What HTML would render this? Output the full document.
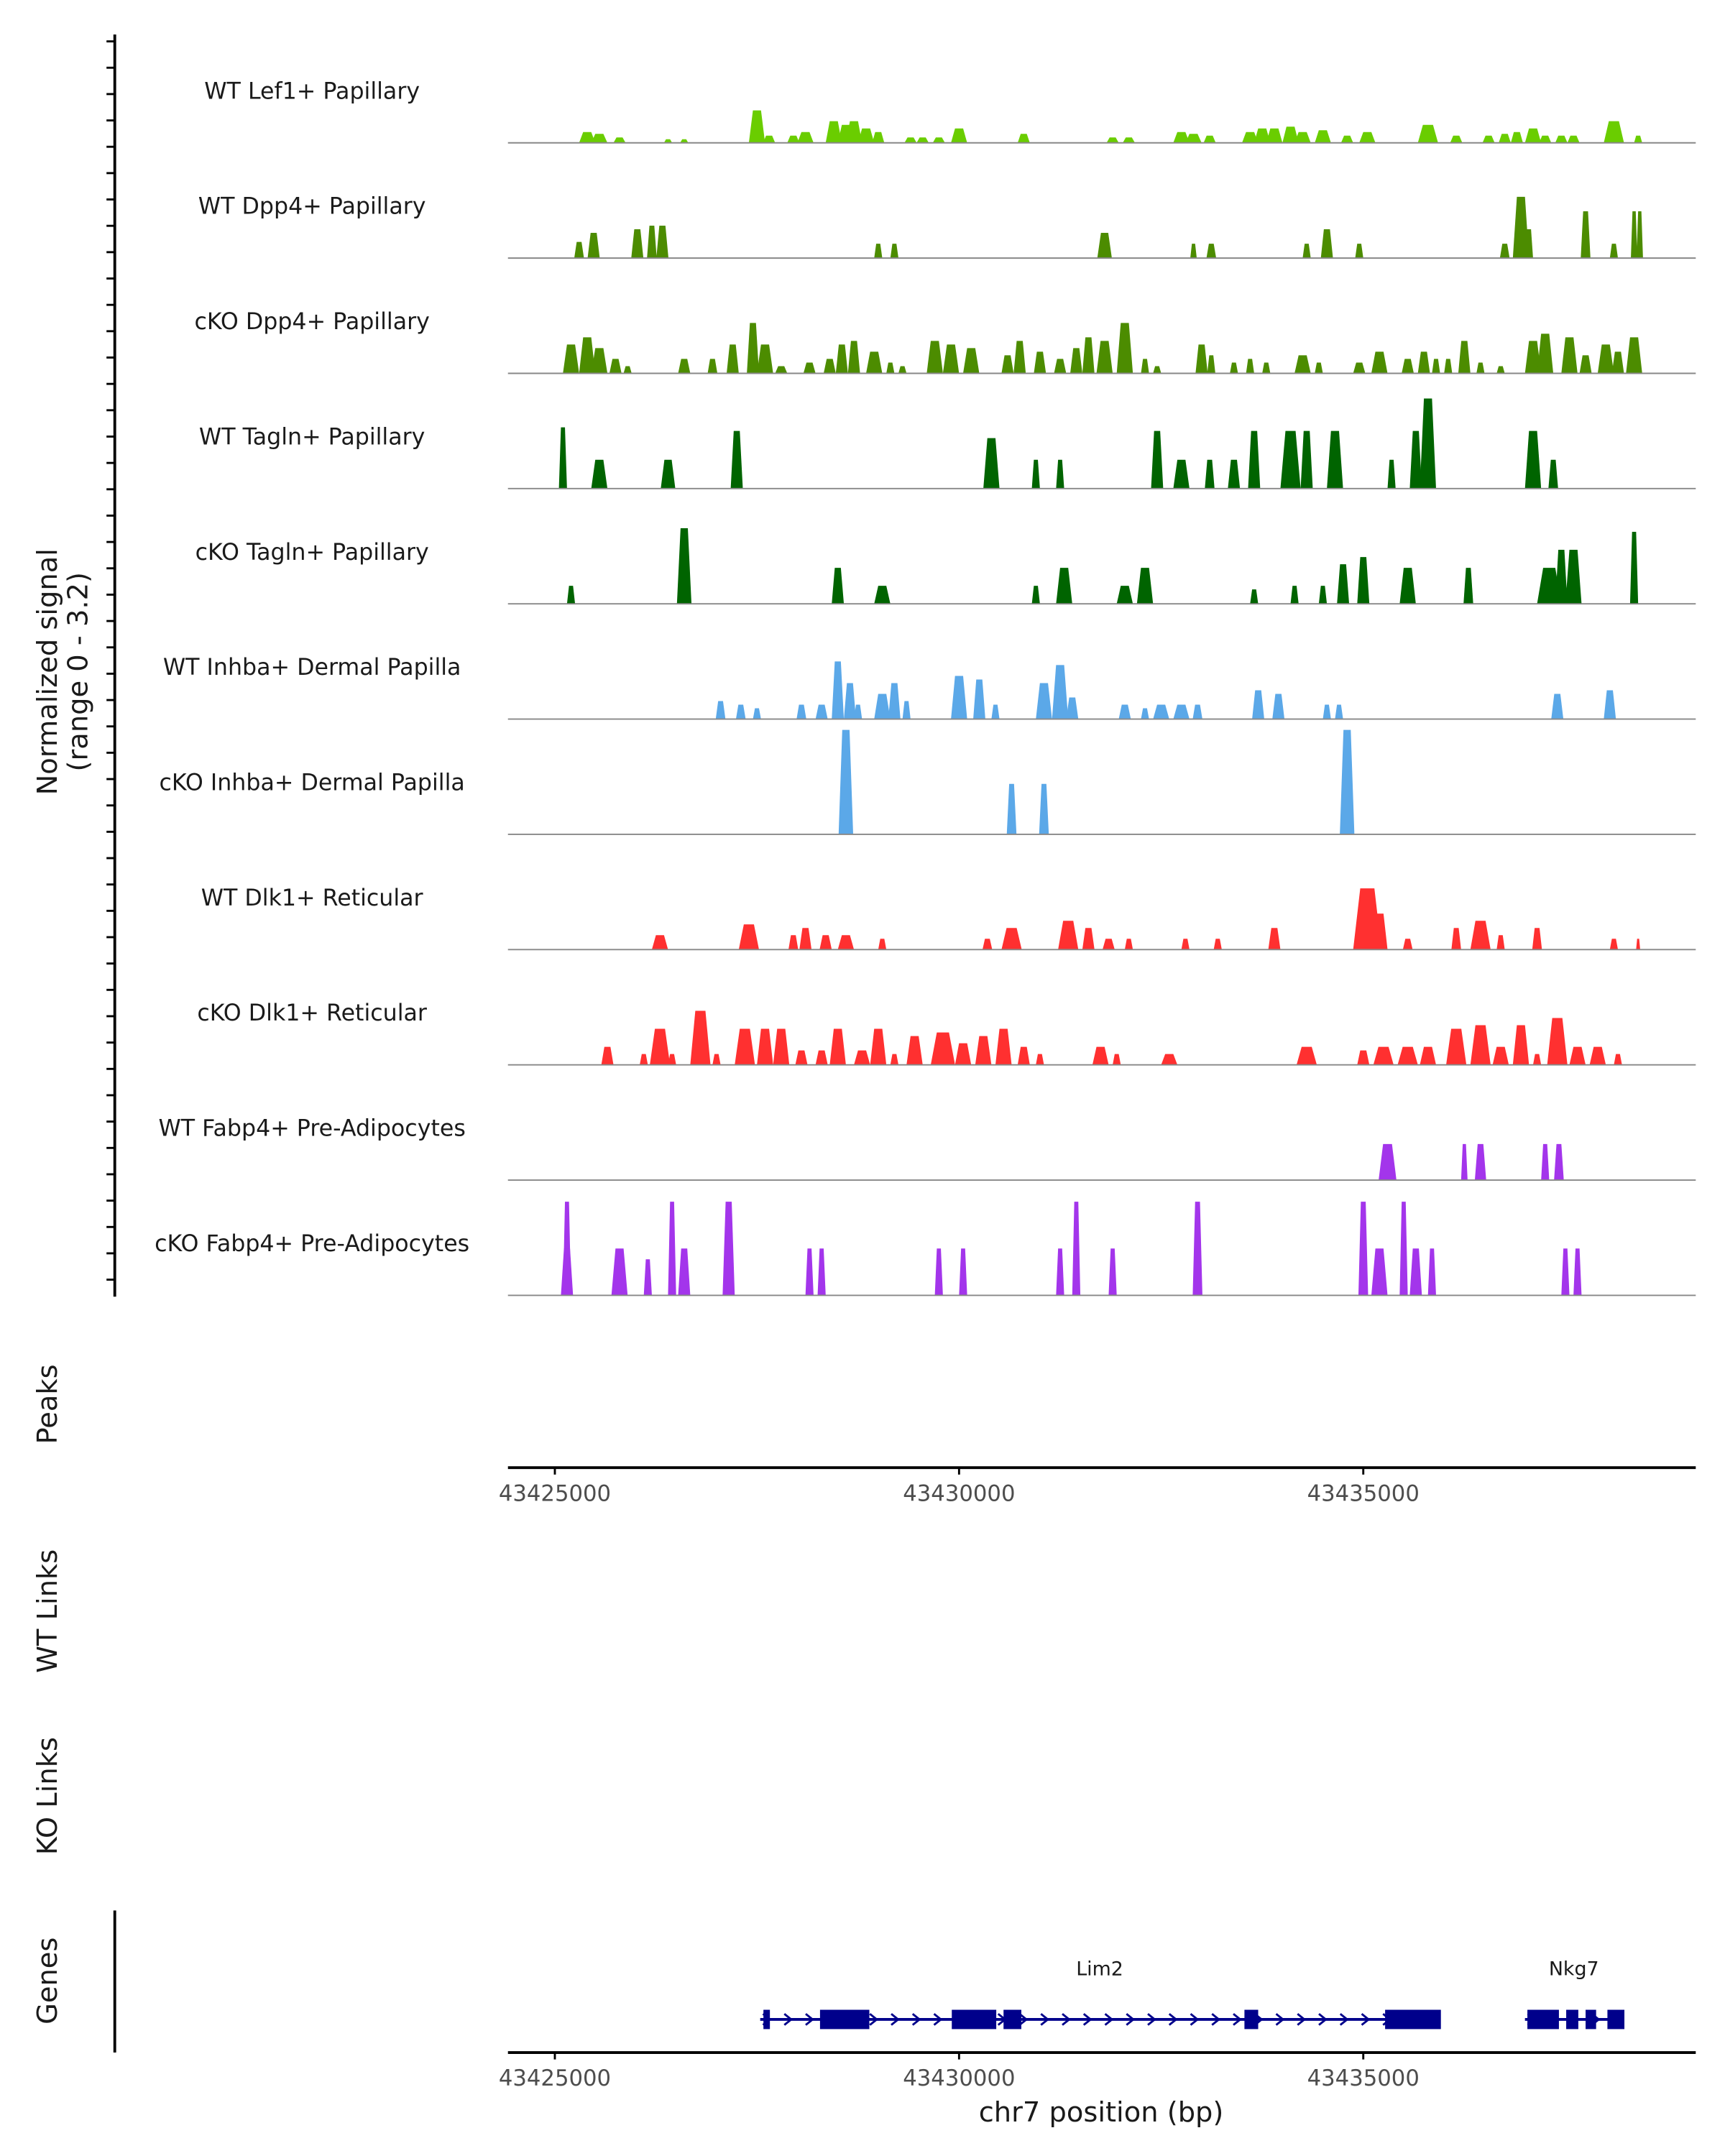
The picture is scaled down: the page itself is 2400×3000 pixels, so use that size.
<!DOCTYPE html>
<html><head><meta charset="utf-8">
<style>
html,body{margin:0;padding:0;background:#fff;}
svg{display:block;font-family:"DejaVu Sans","Liberation Sans",sans-serif;}
</style></head>
<body>
<svg id="chart" width="2400" height="3000" viewBox="0 0 1250 1563" xmlns="http://www.w3.org/2000/svg">
<rect x="0" y="0" width="1250" height="1563" fill="#fff"/>
<g id="static">
<text transform="translate(41,487) rotate(-90)" text-anchor="middle" font-size="20" fill="#1a1a1a">Normalized signal</text>
<text transform="translate(63,487) rotate(-90)" text-anchor="middle" font-size="20" fill="#1a1a1a">(range 0 - 3.2)</text>
<text transform="translate(41,1018) rotate(-90)" text-anchor="middle" font-size="20" fill="#1a1a1a">Peaks</text>
<text transform="translate(41,1168) rotate(-90)" text-anchor="middle" font-size="20" fill="#1a1a1a">WT Links</text>
<text transform="translate(41,1302) rotate(-90)" text-anchor="middle" font-size="20" fill="#1a1a1a">KO Links</text>
<text transform="translate(41,1436) rotate(-90)" text-anchor="middle" font-size="20" fill="#1a1a1a">Genes</text>
<line x1="83" y1="25" x2="83" y2="940" stroke="#000" stroke-width="2"/>
<line x1="83" y1="1385" x2="83" y2="1488" stroke="#000" stroke-width="2"/>
<text x="798" y="1538" text-anchor="middle" font-size="20" fill="#1a1a1a">chr7 position (bp)</text>
</g>
<g id="dyn"></g>
</svg>
<script>
const OFFSET_KB = 43400;
const trackNames = ["WT Lef1+ Papillary","WT Dpp4+ Papillary","cKO Dpp4+ Papillary","WT Tagln+ Papillary","cKO Tagln+ Papillary","WT Inhba+ Dermal Papilla","cKO Inhba+ Dermal Papilla","WT Dlk1+ Reticular","cKO Dlk1+ Reticular","WT Fabp4+ Pre-Adipocytes","cKO Fabp4+ Pre-Adipocytes"];
const trackColors = ["#6acd00","#4c8c00","#4c8c00","#006400","#006400","#5ba8e8","#5ba8e8","#ff3030","#ff3030","#a335eb","#a335eb"];
const xTicks = [43425000,43430000,43435000];
// peaks: [position kb (offset 43400), signal height, width kb]
const lef1WT = [[25.4,.3,.2],[25.55,.25,.2],[25.8,.15,.15],[26.4,.1,.1],[26.6,.1,.1],[27.5,.9,.2],[27.65,.2,.15],[27.95,.2,.15],[28.1,.3,.2],[28.45,.6,.2],[28.6,.5,.2],[28.7,.6,.2],[28.85,.4,.2],[29.0,.3,.15],[29.4,.15,.15],[29.55,.15,.15],[29.75,.15,.15],[30.0,.4,.2],[30.8,.25,.15],[31.9,.15,.15],[32.1,.15,.15],[32.75,.3,.2],[32.9,.25,.2],[33.1,.2,.15],[33.6,.3,.2],[33.75,.4,.2],[33.9,.4,.2],[34.1,.45,.2],[34.25,.3,.2],[34.5,.35,.2],[34.8,.2,.15],[35.05,.3,.2],[35.8,.5,.25],[36.15,.2,.15],[36.55,.2,.15],[36.75,.25,.15],[36.9,.3,.15],[37.1,.4,.2],[37.25,.2,.15],[37.45,.2,.15],[37.6,.2,.15],[38.1,.6,.25],[38.4,.2,.1]];
const dpp4WT = [[25.3,.45,.12],[25.48,.7,.15],[26.02,.8,.15],[26.2,.9,.12],[26.33,.9,.15],[29.0,.4,.1],[29.2,.4,.1],[31.8,.7,.18],[32.9,.4,.08],[33.12,.4,.12],[34.3,.4,.1],[34.55,.8,.15],[34.95,.4,.1],[36.75,.4,.12],[36.95,1.7,.2],[37.05,.8,.1],[37.75,1.3,.12],[38.1,.4,.1],[38.35,1.3,.08],[38.42,1.3,.08]];
const dpp4KO = [[25.2,.8,.2],[25.4,1.0,.2],[25.55,.7,.2],[25.75,.4,.15],[25.9,.2,.1],[26.6,.4,.15],[26.95,.4,.12],[27.2,.8,.15],[27.45,1.4,.15],[27.6,.8,.2],[27.8,.2,.15],[28.15,.3,.15],[28.4,.4,.15],[28.55,.8,.15],[28.7,.9,.15],[28.95,.6,.2],[29.15,.3,.1],[29.3,.2,.1],[29.7,.9,.2],[29.9,.8,.2],[30.15,.7,.2],[30.6,.5,.15],[30.75,.9,.15],[31.0,.6,.15],[31.25,.4,.15],[31.45,.7,.15],[31.6,1.0,.15],[31.8,.9,.2],[32.05,1.4,.2],[32.3,.4,.1],[32.45,.2,.1],[33.0,.8,.15],[33.12,.5,.1],[33.4,.3,.1],[33.6,.4,.1],[33.8,.3,.1],[34.25,.5,.2],[34.45,.3,.1],[34.95,.3,.15],[35.2,.6,.2],[35.55,.4,.15],[35.75,.6,.15],[35.9,.4,.1],[36.05,.4,.1],[36.25,.9,.15],[36.45,.3,.1],[36.7,.2,.1],[37.1,.9,.2],[37.25,1.1,.2],[37.55,1.0,.2],[37.75,.5,.15],[38.0,.8,.2],[38.15,.6,.15],[38.35,1.0,.2]];
const taglnWT = [[25.1,1.7,.1],[25.55,.8,.2],[26.4,.8,.18],[27.25,1.6,.15],[30.4,1.4,.2],[30.95,.8,.1],[31.25,.8,.1],[32.45,1.6,.15],[32.75,.8,.2],[33.1,.8,.12],[33.4,.8,.15],[33.65,1.6,.15],[34.1,1.6,.25],[34.3,1.6,.15],[34.65,1.6,.2],[35.35,.8,.1],[35.65,1.6,.15],[35.8,2.5,.2],[37.1,1.6,.2],[37.35,.8,.12]];
const taglnKO = [[25.2,.5,.1],[26.6,2.1,.18],[28.5,1.0,.15],[29.05,.5,.2],[30.95,.5,.1],[31.3,1.0,.2],[32.05,.5,.2],[32.3,1.0,.2],[33.65,.4,.1],[34.15,.5,.1],[34.5,.5,.1],[34.75,1.1,.15],[35.0,1.3,.15],[35.55,1.0,.2],[36.3,1.0,.12],[37.3,1.0,.3],[37.45,1.5,.15],[37.6,1.5,.2],[38.35,2.0,.1]];
const inhbaWT = [[27.05,.5,.12],[27.3,.4,.12],[27.5,.3,.1],[28.05,.4,.12],[28.3,.4,.15],[28.5,1.6,.15],[28.65,1.0,.15],[28.75,.4,.1],[29.05,.7,.2],[29.2,1.0,.15],[29.35,.5,.1],[30.0,1.2,.2],[30.25,1.1,.15],[30.45,.4,.1],[31.05,1.0,.2],[31.25,1.5,.2],[31.4,.6,.15],[32.05,.4,.15],[32.3,.3,.1],[32.5,.4,.2],[32.75,.4,.2],[32.95,.4,.12],[33.7,.8,.15],[33.95,.7,.15],[34.55,.4,.1],[34.7,.4,.1],[37.4,.7,.15],[38.05,.8,.15]];
const inhbaKO = [[28.6,2.9,.18],[30.65,1.4,.12],[31.05,1.4,.12],[34.8,2.9,.18]];
const dlk1WT = [[26.3,.4,.2],[27.4,.7,.25],[27.95,.4,.12],[28.1,.6,.15],[28.35,.4,.15],[28.6,.4,.2],[29.05,.3,.1],[30.35,.3,.12],[30.65,.6,.25],[31.35,.8,.25],[31.6,.6,.15],[31.85,.3,.15],[32.1,.3,.1],[32.8,.3,.1],[33.2,.3,.1],[33.9,.6,.15],[35.05,1.7,.35],[35.2,1.0,.2],[35.55,.3,.12],[36.15,.6,.12],[36.45,.8,.25],[36.7,.4,.1],[37.15,.6,.12],[38.1,.3,.1],[38.4,.3,.05]];
const dlk1KO = [[25.65,.5,.15],[26.1,.3,.1],[26.3,1.0,.25],[26.45,.3,.1],[26.8,1.5,.25],[27.0,.3,.1],[27.35,1.0,.25],[27.6,1.0,.2],[27.8,1.0,.2],[28.05,.4,.15],[28.3,.4,.15],[28.5,1.0,.2],[28.8,.4,.2],[29.0,1.0,.2],[29.2,.3,.1],[29.45,.8,.2],[29.8,.9,.3],[30.05,.6,.2],[30.3,.8,.2],[30.55,1.0,.2],[30.8,.5,.15],[31.0,.3,.1],[31.75,.5,.2],[31.95,.3,.1],[32.6,.3,.2],[34.3,.5,.25],[35.0,.4,.15],[35.25,.5,.25],[35.55,.5,.25],[35.8,.5,.2],[36.15,1.0,.25],[36.45,1.1,.25],[36.7,.5,.2],[36.95,1.1,.2],[37.15,.3,.1],[37.4,1.3,.25],[37.65,.5,.2],[37.9,.5,.2],[38.15,.3,.1]];
const fabp4WT = [[35.3,1.0,.22],[36.25,1.0,.08],[36.45,1.0,.14],[37.25,1.0,.1],[37.42,1.0,.12]];
const fabp4KO = [[25.15,2.6,.1],[25.15,1.3,.15],[25.8,1.3,.2],[26.15,1.0,.1],[26.45,2.6,.1],[26.6,1.3,.15],[27.15,2.6,.15],[28.15,1.3,.1],[28.3,1.3,.1],[29.75,1.3,.1],[30.05,1.3,.1],[31.25,1.3,.1],[31.45,2.6,.1],[31.9,1.3,.1],[32.95,2.6,.12],[35.0,2.6,.12],[35.2,1.3,.2],[35.5,2.6,.1],[35.65,1.3,.15],[35.85,1.3,.1],[37.5,1.3,.1],[37.65,1.3,.1]];
const trackPeaks = [lef1WT,dpp4WT,dpp4KO,taglnWT,taglnKO,inhbaWT,inhbaKO,dlk1WT,dlk1KO,fabp4WT,fabp4KO];
const geneNames = ["Lim2","Nkg7"];
const geneSpans = [[27.54,35.94],[37.0,38.21]];
const geneExons = [[[27.58,27.66],[28.28,28.89],[29.91,30.46],[30.55,30.77],[33.53,33.70],[35.27,35.96]],[[37.03,37.42],[37.51,37.66],[37.75,37.88],[38.02,38.23]]];

const NS="http://www.w3.org/2000/svg";
const g=document.getElementById('dyn');
const X0=402, PXPERKB=58.6, PLOT_L=368, PLOT_R=1229;
const xs = kb => X0 + (kb - 25) * PXPERKB;
const xsBp = bp => xs(bp/1000 - OFFSET_KB);
const TRACK_TOP=20, TRACK_H=83.55, YMAX=3.2;
const baseY = i => TRACK_TOP + (i+1)*TRACK_H;
const ys = (i,v) => baseY(i) - v/YMAX*TRACK_H;
function mk(tag, attrs){const e=document.createElementNS(NS,tag);for(const k in attrs)e.setAttribute(k,attrs[k]);g.appendChild(e);return e;}

for(let y=30; y<=940; y+=19.1){
  const t=mk('line',{x1:77,y1:y,x2:83,y2:y,stroke:'#000','stroke-width':1.5});
  
  
}

trackNames.forEach((name,i)=>{
  const b=baseY(i);
  const lab=mk('text',{x:226,y:b-32,'text-anchor':'middle','font-size':16.5,fill:'#1a1a1a'});
  lab.textContent=name;
  
  
  trackPeaks[i].forEach(p=>{
    const [pos,h,w]=p;
    const x0=xs(pos-w/2), x1=xs(pos+w/2), top=ys(i,h), inset=(x1-x0)*0.25;
    const poly=mk('polygon',{points:`${x0},${b} ${x0+inset},${top} ${x1-inset},${top} ${x1},${b}`,fill:trackColors[i]});
    
    
  });
  const bl=mk('line',{x1:PLOT_L,y1:b,x2:PLOT_R,y2:b,stroke:'#888','stroke-width':1});
  
  
});

function xAxis(y,name){
  const a=mk('line',{x1:PLOT_L,y1:y,x2:PLOT_R,y2:y,stroke:'#000','stroke-width':2});
  
  
  xTicks.forEach(v=>{
    const x=xsBp(v);
    const t=mk('line',{x1:x,y1:y,x2:x,y2:y+5,stroke:'#000','stroke-width':1.5});
    
    
    const l=mk('text',{x:x,y:y+24,'text-anchor':'middle','font-size':16,fill:'#4d4d4d'});
    l.textContent=String(v);
    
    
  });
}
xAxis(1064,'peaks-x-axis');
xAxis(1488,'genes-x-axis');

const GY=1464;
geneNames.forEach((n,gi)=>{
  const [s,e]=geneSpans[gi];
  const ln=mk('line',{x1:xs(s),y1:GY,x2:xs(e),y2:GY,stroke:'#00008b','stroke-width':2});
  
  
  for(let x=xs(s)+2; x<xs(e)-4; x+=15.5){
    const ar=mk('polyline',{points:`${x},${GY-4} ${x+5},${GY} ${x},${GY+4}`,fill:'none',stroke:'#00008b','stroke-width':1.5});
    
    
  }
  geneExons[gi].forEach(ex=>{
    const r=mk('rect',{x:xs(ex[0]),y:GY-7,width:xs(ex[1])-xs(ex[0]),height:14,fill:'#00008b'});
    
    
  });
  const lab=mk('text',{x:xs((s+e)/2),y:1432,'text-anchor':'middle','font-size':14,fill:'#1a1a1a'});
  lab.textContent=n;
  
  
});
</script>
</body></html>
